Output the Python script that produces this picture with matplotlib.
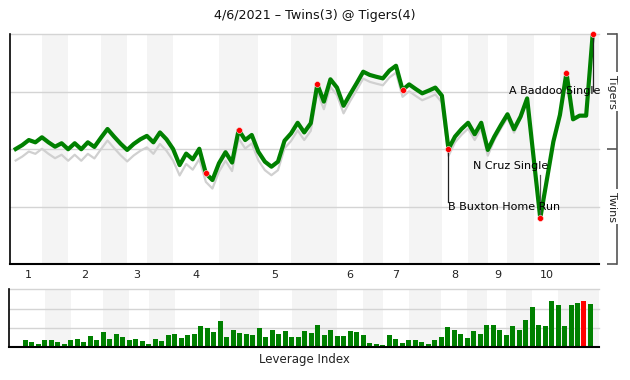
import numpy as np
import matplotlib
matplotlib.use("Agg")
import matplotlib.pyplot as plt
import matplotlib.transforms as mtransforms

# win probability for the Tigers after each play (index 0 = first pitch)
wp = [0.500, 0.517, 0.539, 0.529, 0.551, 0.529, 0.510, 0.525, 0.499, 0.525,
      0.499, 0.529, 0.509, 0.549, 0.587, 0.554, 0.523, 0.496, 0.522, 0.542,
      0.557, 0.529, 0.572, 0.542, 0.500, 0.430, 0.480, 0.455, 0.501, 0.394,
      0.365, 0.438, 0.486, 0.441, 0.583, 0.539, 0.561, 0.488, 0.445, 0.423,
      0.445, 0.536, 0.568, 0.614, 0.572, 0.612, 0.781, 0.706, 0.803, 0.767,
      0.688, 0.738, 0.786, 0.836, 0.822, 0.814, 0.807, 0.841, 0.862, 0.757,
      0.781, 0.761, 0.742, 0.754, 0.767, 0.732, 0.500, 0.554, 0.587, 0.614,
      0.564, 0.614, 0.496, 0.554, 0.604, 0.651, 0.586, 0.641, 0.720, 0.459,
      0.199, 0.365, 0.532, 0.648, 0.832, 0.629, 0.645, 0.645, 1.000]

# how far the grey reference line sits below the green one
gap = [0.05] * 25 + [0.045] * 4 + [0.037] * 12 + [0.033] * 10 + [0.03] * 16 \
      + [0.025] * 6 + [0.015] * 4 + [0.008] * 2 + [0.0] * 10

# leverage index of each play (1..88)
lev = [0.36, 0.26, 0.16, 0.36, 0.36, 0.26, 0.16, 0.36, 0.42, 0.26,
       0.57, 0.36, 0.78, 0.42, 0.68, 0.52, 0.36, 0.42, 0.31, 0.16,
       0.42, 0.31, 0.62, 0.68, 0.47, 0.62, 0.68, 1.09, 0.99, 0.78,
       1.35, 0.52, 0.88, 0.73, 0.68, 0.62, 0.99, 0.52, 0.88, 0.68,
       0.83, 0.52, 0.52, 0.83, 0.73, 1.14, 0.62, 0.88, 0.57, 0.57,
       0.83, 0.78, 0.62, 0.21, 0.16, 0.10, 0.62, 0.42, 0.21, 0.36,
       0.36, 0.26, 0.16, 0.36, 0.52, 1.04, 0.88, 0.68, 0.47, 0.83,
       0.68, 1.14, 1.14, 0.88, 0.62, 1.09, 0.88, 1.40, 2.08, 1.14,
       1.09, 2.39, 2.18, 1.09, 2.18, 2.29, 2.39, 2.24]
red_bar = 87

# half-inning boundaries (play index)
top_start = [0, 8, 17, 24, 37, 49, 56, 65, 72, 79]
bot_start = [4, 13, 20, 31, 42, 53, 60, 69, 75, 83]
innings = ['1', '2', '3', '4', '5', '6', '7', '8', '9', '10']

key_plays = [29, 34, 46, 59, 66, 80, 84, 88]
notes = [(88, 'A Baddoo Single'), (80, 'N Cruz Single'), (66, 'B Buxton Home Run')]

title = '4/6/2021 \u2013 Twins(3) @ Tigers(4)'

plt.rcParams['font.family'] = 'DejaVu Sans'
fs = 8

green = '#008000'
band_c = '#f4f4f4'
grid_c = '#d4d4d4'

fig = plt.figure(figsize=(6.3, 3.8), dpi=100)
ax = fig.add_axes([10/630, 1-264/380, 589/630, 230/380])
axb = fig.add_axes([9.3/630, 1-347/380, 589.7/630, 57.7/380])

x = np.arange(len(wp))
wp = np.array(wp)
xmax = 88.96
ax.set_xlim(-0.87, xmax)
ax.set_ylim(0, 1)

# shaded bottom halves
ends = top_start[1:] + [xmax]
for b, e in zip(bot_start, ends):
    ax.axvspan(b, e, color=band_c, lw=0, zorder=0)
for lvl in [0.25, 0.5, 0.75, 1.0]:
    ax.axhline(lvl, color=grid_c, lw=1, zorder=1, clip_on=False)

ax.plot(x, wp - np.array(gap), color='#d0d0d0', lw=1.6, zorder=2,
        solid_joinstyle='round')
ax.plot(x, wp, color=green, lw=3, zorder=3, solid_joinstyle='round')
ax.plot(key_plays, wp[key_plays], 'o', color='#ff0000', ms=4.3, mec='#ffdddd',
        mew=0.4, zorder=5, clip_on=False)

# annotations
i, txt = notes[0]
ax.plot([i, i], [wp[i], 0.752], color='#222222', lw=0.9, zorder=4)
ax.text(89.1, 0.752, txt, ha='right', va='center', fontsize=fs, zorder=6)
i, txt = notes[1]
ax.plot([i, i], [wp[i], 0.385], color='#555555', lw=0.9, zorder=4)
ax.text(75.5, 0.428, txt, ha='center', va='center', fontsize=fs, zorder=6)
i, txt = notes[2]
ax.plot([i, i], [wp[i], 0.27], color='#222222', lw=0.9, zorder=4)
ax.text(i, 0.248, txt, ha='left', va='center', fontsize=fs, zorder=6)

# spines / right bracket axis
ax.spines['top'].set_visible(False)
ax.spines['left'].set_color('black')
ax.spines['left'].set_linewidth(1.2)
ax.spines['bottom'].set_color('black')
ax.spines['bottom'].set_linewidth(1.5)
ax.spines['right'].set_position(('outward', 13))
ax.spines['right'].set_color('#555555')
ax.spines['right'].set_linewidth(1.2)
ax.set_xticks([])
ax.yaxis.set_ticks_position('right')
ax.set_yticks([0, 0.5, 1])
ax.tick_params(axis='y', direction='in', length=7.5, width=1.2, color='#555555',
               labelright=False)

trans_r = mtransforms.offset_copy(ax.transAxes, fig=fig, x=13, y=0, units='dots')
ax.text(1.0, 0.75, 'Tigers', transform=trans_r, rotation=-90, ha='center',
        va='center', fontsize=fs, color='#222222',
        bbox=dict(fc='white', ec='none', pad=1.5), clip_on=False)
ax.text(1.0, 0.25, 'Twins', transform=trans_r, rotation=-90, ha='center',
        va='center', fontsize=fs, color='#222222',
        bbox=dict(fc='white', ec='none', pad=1.5), clip_on=False)

# inning labels
tr = mtransforms.blended_transform_factory(ax.transData, ax.transAxes)
for s, b, lab in zip(top_start, bot_start, innings):
    ax.text((s + b) / 2, -0.05, lab, transform=tr, ha='center', va='center',
            fontsize=fs, color='#222222')

# leverage bars
bxmax = 89.31
axb.set_xlim(-1.49, bxmax)
axb.set_ylim(0, 3)
bends = top_start[1:] + [bxmax]
for b, e in zip(bot_start, bends):
    axb.axvspan(b, e, color=band_c, lw=0, zorder=0)
for lvl in [1, 2, 3]:
    axb.axhline(lvl, color=grid_c, lw=1, zorder=1, clip_on=False)
bx = np.arange(1, len(lev) + 1)
cols = ['#ff0000' if k == red_bar else green for k in bx]
axb.bar(bx, lev, width=0.77, color=cols, zorder=2)
axb.spines['top'].set_visible(False)
axb.spines['right'].set_visible(False)
axb.spines['left'].set_linewidth(1.2)
axb.spines['bottom'].set_linewidth(1.5)
axb.set_xticks([])
axb.set_yticks([])

fig.text(304/630, 1-359/380, 'Leverage Index', ha='center', va='center',
         fontsize=fs + 0.5, color='#222222')
fig.text(314.5/630, 1-15/380, title, ha='center', va='center',
         fontsize=9.2, color='#111111')

fig.savefig('out.png', dpi=100)
